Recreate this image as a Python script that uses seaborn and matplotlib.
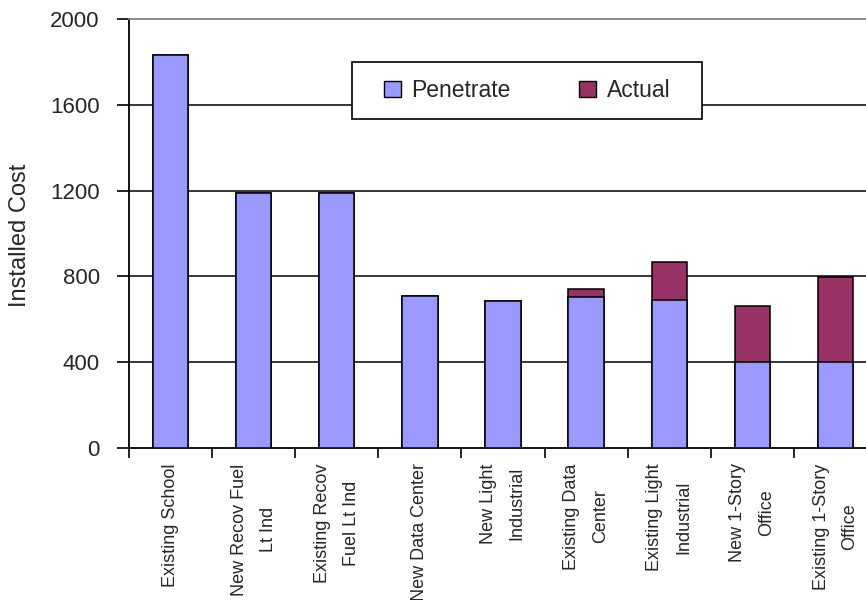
import numpy as np
import pandas as pd
import matplotlib
matplotlib.use("Agg")
import matplotlib.pyplot as plt
from matplotlib.patches import Patch, Rectangle
import seaborn as sns

categories = [
    "Existing School",
    "New Recov Fuel\nLt Ind",
    "Existing Recov\nFuel Lt Ind",
    "New Data Center",
    "New Light\nIndustrial",
    "Existing Data\nCenter",
    "Existing Light\nIndustrial",
    "New 1-Story\nOffice",
    "Existing 1-Story\nOffice",
]
penetrate = [1830, 1190, 1190, 708, 685, 705, 690, 400, 400]
actual = [0, 0, 0, 0, 0, 36, 178, 260, 395]
y_ticks = [0, 400, 800, 1200, 1600, 2000]

PEN_COLOR = "#9999FF"
ACT_COLOR = "#993366"

sns.set_theme(style="white")
plt.rcParams["font.family"] = ["Liberation Sans", "DejaVu Sans"]

df = pd.DataFrame({"category": categories, "penetrate": penetrate, "actual": actual})
df["total"] = df["penetrate"] + df["actual"]

fig = plt.figure(figsize=(8.66, 6.0), dpi=100)
fig.patch.set_facecolor("white")
ax = fig.add_axes([129 / 866, 152 / 600, 748 / 866, 429 / 600])
ax.set_facecolor("white")

# stacked bars: full height in the "Actual" colour, then the "Penetrate" part over it
sns.barplot(data=df, x="category", y="total", color=ACT_COLOR, saturation=1,
            width=0.424, edgecolor="black", linewidth=1.1, ax=ax, zorder=3)
sns.barplot(data=df, x="category", y="penetrate", color=PEN_COLOR, saturation=1,
            width=0.424, edgecolor="black", linewidth=1.1, ax=ax, zorder=4)

ax.set_xlim(-0.5, len(categories) - 0.5)
ax.set_ylim(0, 2000)
ax.set_yticks(y_ticks)
ax.set_yticklabels([str(v) for v in y_ticks], fontsize=16)

# horizontal grid (black), top frame line in grey
ax.yaxis.grid(True, color="black", linewidth=1.1, zorder=1)
ax.set_axisbelow(True)
for gl, v in zip(ax.get_ygridlines(), y_ticks):
    if v in (0, 2000):
        gl.set_visible(False)

for side in ("left", "bottom"):
    ax.spines[side].set_color("black")
    ax.spines[side].set_linewidth(1.3)
ax.spines["top"].set_color("#808080")
ax.spines["top"].set_linewidth(1.3)
ax.spines["right"].set_visible(False)

# x ticks between categories, labels at category centres
ax.set_xticks(np.arange(-0.5, len(categories), 1.0))
ax.set_xticklabels([])
ax.set_xticks(np.arange(len(categories)), minor=True)
ax.set_xticklabels(categories, minor=True, rotation=90, fontsize=13,
                   va="top", ha="center", multialignment="center", linespacing=1.9)
ax.tick_params(axis="x", which="major", direction="out", length=7, width=1.2,
               color="black", bottom=True)
ax.tick_params(axis="x", which="minor", length=0, pad=11)
ax.tick_params(axis="y", direction="out", length=9, width=1.2, color="black",
               left=True, pad=12)

ax.set_xlabel("")
ax.set_ylabel("")
fig.text(20 / 866, 1 - 235 / 600, "Installed Cost", rotation=90, fontsize=17,
         ha="center", va="center")

# legend box
box = Rectangle((352 / 866, 1 - 119 / 600), 350 / 866, 57 / 600,
                transform=fig.transFigure, facecolor="white", edgecolor="black",
                linewidth=1.2, zorder=5)
fig.patches.append(box)
handles = [Patch(facecolor=PEN_COLOR, edgecolor="black", linewidth=1.0, label="Penetrate"),
           Patch(facecolor=ACT_COLOR, edgecolor="black", linewidth=1.0, label="Actual")]
leg = fig.legend(handles=handles, loc="center", bbox_to_anchor=(527 / 866, 1 - 90.5 / 600),
                 bbox_transform=fig.transFigure, ncol=2, frameon=False, fontsize=16.5,
                 handlelength=0.75, handleheight=0.75, handletextpad=0.45,
                 columnspacing=3.0)
leg.set_zorder(6)

fig.savefig("out.png", dpi=100, facecolor="white")
